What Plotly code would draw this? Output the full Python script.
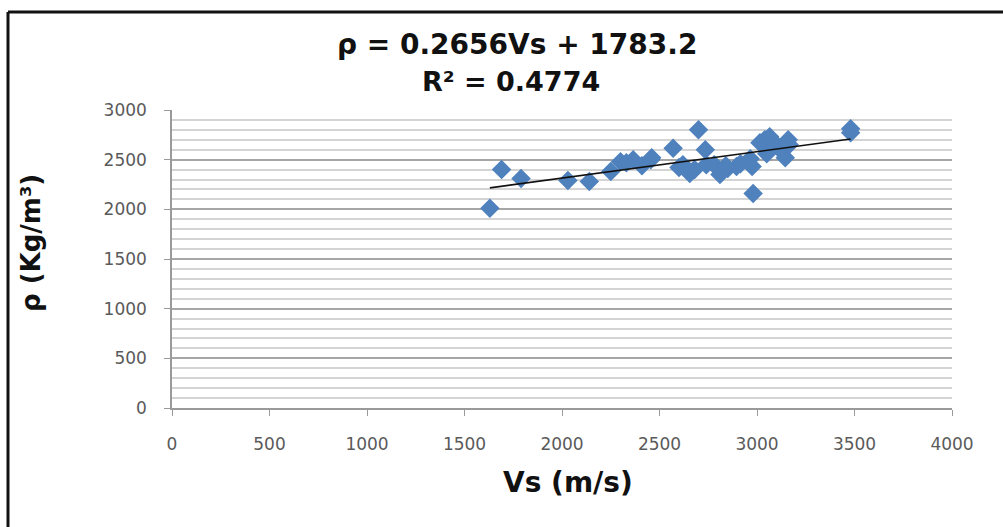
import plotly.graph_objects as go

# Data
vs = [1630, 1690, 1790, 2030, 2140, 2250, 2300, 2365, 2410, 2455, 2460,
      2570, 2600, 2655, 2700, 2735, 2740, 2810, 2850, 2895, 2915, 2965,
      2975, 2980, 3015, 3040, 3065, 3100, 3120, 3145, 3160, 3165, 3480, 3480,
      2680, 2780, 2330, 2620, 3050, 2840]
rho = [2010, 2400, 2310, 2290, 2280, 2380, 2480, 2500, 2440, 2500, 2520,
       2615, 2420, 2360, 2800, 2600, 2450, 2350, 2410, 2430, 2460, 2510,
       2430, 2160, 2670, 2700, 2730, 2650, 2600, 2520, 2700, 2650, 2810, 2770,
       2400, 2450, 2470, 2450, 2560, 2440]

slope = 0.2656
intercept = 1783.2
fit_x = [min(vs), max(vs)]
fit_y = [slope * v + intercept for v in fit_x]

x_ticks = [0, 500, 1000, 1500, 2000, 2500, 3000, 3500, 4000]
y_ticks = [0, 500, 1000, 1500, 2000, 2500, 3000]

fig = go.Figure()
fig.add_trace(go.Scatter(
    x=vs, y=rho, mode="markers",
    marker=dict(symbol="diamond", size=15, color="#4F81BD",
                line=dict(width=0)),
    showlegend=False))
fig.add_trace(go.Scatter(
    x=fit_x, y=fit_y, mode="lines",
    line=dict(color="#111111", width=1.6), showlegend=False))

tickfont = dict(family="DejaVu Sans", size=17, color="#5a5a5a")
boldfont = "DejaVu Sans"

L, R, T, B = 172, 51, 110, 119
PW, PH = 1003 - L - R, 527 - T - B


def px_x(p):
    return (p - L) / PW


def px_y(p):
    return (527 - B - p) / PH


fig.update_layout(
    width=1003, height=527,
    margin=dict(l=L, r=R, t=T, b=B),
    paper_bgcolor="white", plot_bgcolor="white",
    xaxis=dict(range=[0, 4000], tickvals=x_ticks, showgrid=False,
               showline=True, linecolor="#9a9a9a", linewidth=1.5,
               ticks="outside", ticklen=6, tickcolor="#9a9a9a",
               tickfont=tickfont, ticklabelstandoff=14, zeroline=False),
    yaxis=dict(range=[0, 3000], tickvals=y_ticks, showgrid=True,
               gridcolor="#a6a6a6", gridwidth=2,
               showline=True, linecolor="#9a9a9a", linewidth=1.5,
               ticks="outside", ticklen=6, tickcolor="#9a9a9a",
               tickfont=tickfont, ticklabelstandoff=14, zeroline=False,
               minor=dict(dtick=100, showgrid=True, gridcolor="#d4d4d4",
                          gridwidth=2)),
)

# Border around the chart (left and top edges visible, others cropped)
fig.add_shape(type="line", xref="paper", yref="paper",
              x0=px_x(8), x1=px_x(8), y0=px_y(527), y1=px_y(12),
              line=dict(color="#111111", width=3), layer="below")
fig.add_shape(type="line", xref="paper", yref="paper",
              x0=px_x(8), x1=px_x(1003), y0=px_y(12), y1=px_y(12),
              line=dict(color="#111111", width=3), layer="below")

fig.add_annotation(xref="paper", yref="paper", x=px_x(517), y=px_y(44),
                   showarrow=False, text="<b>ρ = 0.2656Vs + 1783.2</b>",
                   font=dict(family=boldfont, size=28, color="#111111"),
                   yanchor="middle", xanchor="center")
fig.add_annotation(xref="paper", yref="paper", x=px_x(511), y=px_y(81),
                   showarrow=False, text="<b>R² = 0.4774</b>",
                   font=dict(family=boldfont, size=27, color="#111111"),
                   yanchor="middle", xanchor="center")
# Axis titles
fig.add_annotation(xref="paper", yref="paper", x=px_x(568), y=px_y(482),
                   showarrow=False, text="<b>Vs (m/s)</b>",
                   font=dict(family=boldfont, size=28, color="#111111"),
                   yanchor="middle", xanchor="center")
fig.add_annotation(xref="paper", yref="paper", x=px_x(31), y=px_y(243),
                   showarrow=False, text="<b>ρ (Kg/m³)</b>", textangle=-90,
                   font=dict(family=boldfont, size=26, color="#111111"),
                   yanchor="middle", xanchor="center")

fig.write_html("out.html")
